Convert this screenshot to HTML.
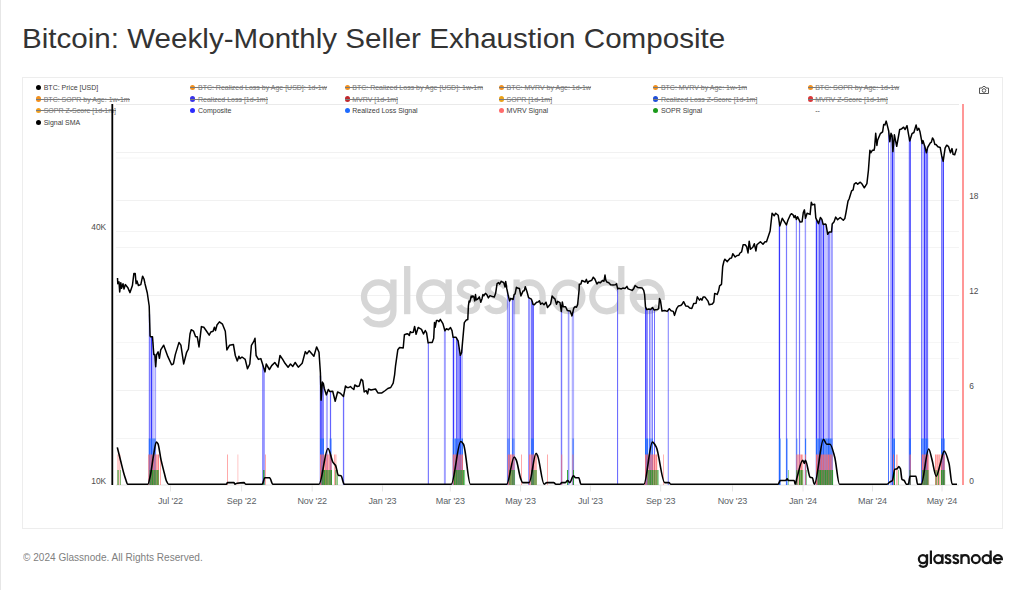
<!DOCTYPE html>
<html><head><meta charset="utf-8"><style>
html,body{margin:0;padding:0;background:#fff;}
body{width:1024px;height:590px;position:relative;overflow:hidden;font-family:"Liberation Sans",sans-serif;}
.edge{position:absolute;left:0;top:0;width:1px;height:590px;background:#e6e6e6;}
.title{position:absolute;left:22px;top:23.2px;font-size:28.5px;line-height:31px;color:#333;white-space:nowrap;transform:scaleX(1.038);transform-origin:0 0;}
.card{position:absolute;left:22px;top:77px;width:979px;height:450px;border:1px solid #ededed;box-sizing:content-box;}
.li{position:absolute;height:10px;font-size:7px;line-height:10px;color:#3d3d3d;white-space:nowrap;padding-left:7.7px;padding-top:0.5px;}
.dot{position:absolute;left:0;top:2.4px;width:5.2px;height:5.2px;border-radius:50%;}
.strike{color:#777;}
.stk{position:absolute;left:0;right:0;height:1px;background:#7a7a7a;}
.foot{position:absolute;left:23.1px;top:550px;font-size:10.8px;line-height:14px;color:#808080;white-space:nowrap;transform:scaleX(0.932);transform-origin:0 0;}
.logo{position:absolute;left:917.5px;top:546px;font-size:17.5px;line-height:20px;color:#1a1a1a;white-space:nowrap;transform:scaleX(1.065);transform-origin:0 0;}
svg text{font-family:"Liberation Sans",sans-serif;}
</style></head><body>
<div class="edge"></div>
<div class="title">Bitcoin: Weekly-Monthly Seller Exhaustion Composite</div>
<div class="card"></div>
<div class="li" style="left:36.0px;top:82.3px"><span class="dot" style="background:#000000"></span>BTC: Price [USD]</div>
<div class="li strike" style="left:190.3px;top:82.3px"><span class="dot" style="background:#f2901e"></span>BTC: Realized Loss by Age [USD]: 1d-1w<span class="stk" style="top:4.70px"></span></div>
<div class="li strike" style="left:344.6px;top:82.3px"><span class="dot" style="background:#f2901e"></span>BTC: Realized Loss by Age [USD]: 1w-1m<span class="stk" style="top:4.70px"></span></div>
<div class="li strike" style="left:498.9px;top:82.3px"><span class="dot" style="background:#f2901e"></span>BTC: MVRV by Age: 1d-1w<span class="stk" style="top:4.70px"></span></div>
<div class="li strike" style="left:653.2px;top:82.3px"><span class="dot" style="background:#f2901e"></span>BTC: MVRV by Age: 1w-1m<span class="stk" style="top:4.70px"></span></div>
<div class="li strike" style="left:807.5px;top:82.3px"><span class="dot" style="background:#f2901e"></span>BTC: SOPR by Age: 1d-1w<span class="stk" style="top:4.70px"></span></div>
<div class="li strike" style="left:36.0px;top:94.0px"><span class="dot" style="background:#f2901e"></span>BTC: SOPR by Age: 1w-1m<span class="stk" style="top:5.00px"></span></div>
<div class="li strike" style="left:190.3px;top:94.0px"><span class="dot" style="background:#3a33e8"></span>Realized Loss [1d-1m]<span class="stk" style="top:5.00px"></span></div>
<div class="li strike" style="left:344.6px;top:94.0px"><span class="dot" style="background:#c0282d"></span>MVRV [1d-1m]<span class="stk" style="top:5.00px"></span></div>
<div class="li strike" style="left:498.9px;top:94.0px"><span class="dot" style="background:#eaa21a"></span>SOPR [1d-1m]<span class="stk" style="top:5.00px"></span></div>
<div class="li strike" style="left:653.2px;top:94.0px"><span class="dot" style="background:#1f4fd8"></span>Realized Loss Z-Score [1d-1m]<span class="stk" style="top:5.00px"></span></div>
<div class="li strike" style="left:807.5px;top:94.0px"><span class="dot" style="background:#d9383a"></span>MVRV Z-Score [1d-1m]<span class="stk" style="top:5.00px"></span></div>
<div class="li strike" style="left:36.0px;top:105.8px"><span class="dot" style="background:#f2a01e"></span>SOPR Z-Score [1d-1m]<span class="stk" style="top:4.20px"></span></div>
<div class="li" style="left:190.3px;top:105.8px"><span class="dot" style="background:#2b2bff"></span>Composite</div>
<div class="li" style="left:344.6px;top:105.8px"><span class="dot" style="background:#1e6bff"></span>Realized Loss Signal</div>
<div class="li" style="left:498.9px;top:105.8px"><span class="dot" style="background:#ff6b6b"></span>MVRV Signal</div>
<div class="li" style="left:653.2px;top:105.8px"><span class="dot" style="background:#1a9a1a"></span>SOPR Signal</div>
<div class="li" style="left:807.5px;top:105.8px">--</div>
<div class="li" style="left:36.0px;top:117.5px"><span class="dot" style="background:#000000"></span>Signal SMA</div>
<svg style="position:absolute;left:0;top:0" width="1024" height="590" viewBox="0 0 1024 590">
<g><line x1="116" y1="104.5" x2="959" y2="104.5" stroke="#eaeaea" stroke-width="1"/>
<line x1="116" y1="152.5" x2="959" y2="152.5" stroke="#f1f1f1" stroke-width="1"/>
<line x1="116" y1="158" x2="959" y2="158" stroke="#f6f6f6" stroke-width="1"/>
<line x1="116" y1="200.5" x2="959" y2="200.5" stroke="#f1f1f1" stroke-width="1"/>
<line x1="116" y1="231.5" x2="959" y2="231.5" stroke="#f4f4f4" stroke-width="1"/>
<line x1="116" y1="247.5" x2="959" y2="247.5" stroke="#f4f4f4" stroke-width="1"/>
<line x1="116" y1="295.5" x2="959" y2="295.5" stroke="#f1f1f1" stroke-width="1"/>
<line x1="116" y1="342.5" x2="959" y2="342.5" stroke="#f6f6f6" stroke-width="1"/>
<line x1="116" y1="358.5" x2="959" y2="358.5" stroke="#f6f6f6" stroke-width="1"/>
<line x1="116" y1="390.5" x2="959" y2="390.5" stroke="#f1f1f1" stroke-width="1"/>
<line x1="116" y1="438.5" x2="959" y2="438.5" stroke="#f4f4f4" stroke-width="1"/>
<line x1="116" y1="485" x2="959" y2="485" stroke="#e6e6e6" stroke-width="1"/></g>
<defs><g id="gn">
<circle cx="378.5" cy="296.8" r="14.5"/><path d="M393.4,279.4 V311 C393.4,319.8 387,324.4 379,324.4 C372.5,324.4 368,321.5 365.5,317.5"/>
<path d="M407.2,266 V314.2"/>
<circle cx="433.7" cy="296.8" r="14.5"/><path d="M448.6,279.4 V314.2"/>
<path d="M477.8,287.8 C476,284.3 472.5,282.5 468.5,282.5 C463.5,282.5 460,285 460,289 C460,293.5 464,295 468.5,296.5 C473.5,298 477.2,300 477.2,304.5 C477.2,309 473.5,311.1 468.5,311.1 C464,311.1 460.5,309 459,305.5"/>
<path transform="translate(27.9,0)" d="M477.8,287.8 C476,284.3 472.5,282.5 468.5,282.5 C463.5,282.5 460,285 460,289 C460,293.5 464,295 468.5,296.5 C473.5,298 477.2,300 477.2,304.5 C477.2,309 473.5,311.1 468.5,311.1 C464,311.1 460.5,309 459,305.5"/>
<path d="M516.6,314.2 V279.4 M516.6,296.5 C516.6,288 522,282.5 529.6,282.5 C537.2,282.5 542.6,288 542.6,296.5 V314.2"/>
<circle cx="568.2" cy="296.8" r="14.2"/>
<circle cx="606.8" cy="296.8" r="14.5"/><path d="M621.3,266 V314.2"/>
<path d="M632.9,296.8 H661.7 A14.4,14.4 0 1 0 658.3,306"/>
</g></defs>
<use href="#gn" fill="none" stroke="#d6d6d6" stroke-width="6.3"/>
<g font-size="9" fill="#5c5f66" letter-spacing="-0.1"><line x1="170.5" y1="485" x2="170.5" y2="491.5" stroke="#e6e6e6" stroke-width="1"/><text x="170.5" y="503.9" text-anchor="middle">Jul '22</text>
<line x1="241.6" y1="485" x2="241.6" y2="491.5" stroke="#e6e6e6" stroke-width="1"/><text x="241.6" y="503.9" text-anchor="middle">Sep '22</text>
<line x1="312.2" y1="485" x2="312.2" y2="491.5" stroke="#e6e6e6" stroke-width="1"/><text x="312.2" y="503.9" text-anchor="middle">Nov '22</text>
<line x1="382.5" y1="485" x2="382.5" y2="491.5" stroke="#e6e6e6" stroke-width="1"/><text x="382.5" y="503.9" text-anchor="middle">Jan '23</text>
<line x1="450.3" y1="485" x2="450.3" y2="491.5" stroke="#e6e6e6" stroke-width="1"/><text x="450.3" y="503.9" text-anchor="middle">Mar '23</text>
<line x1="520.6" y1="485" x2="520.6" y2="491.5" stroke="#e6e6e6" stroke-width="1"/><text x="520.6" y="503.9" text-anchor="middle">May '23</text>
<line x1="590.4" y1="485" x2="590.4" y2="491.5" stroke="#e6e6e6" stroke-width="1"/><text x="590.4" y="503.9" text-anchor="middle">Jul '23</text>
<line x1="660.7" y1="485" x2="660.7" y2="491.5" stroke="#e6e6e6" stroke-width="1"/><text x="660.7" y="503.9" text-anchor="middle">Sep '23</text>
<line x1="732.5" y1="485" x2="732.5" y2="491.5" stroke="#e6e6e6" stroke-width="1"/><text x="732.5" y="503.9" text-anchor="middle">Nov '23</text>
<line x1="803" y1="485" x2="803" y2="491.5" stroke="#e6e6e6" stroke-width="1"/><text x="803" y="503.9" text-anchor="middle">Jan '24</text>
<line x1="872.5" y1="485" x2="872.5" y2="491.5" stroke="#e6e6e6" stroke-width="1"/><text x="872.5" y="503.9" text-anchor="middle">Mar '24</text>
<line x1="942" y1="485" x2="942" y2="491.5" stroke="#e6e6e6" stroke-width="1"/><text x="942" y="503.9" text-anchor="middle">May '24</text></g>
<g font-size="8.4" fill="#4d4d4d" text-anchor="end"><text x="106.2" y="483.8">10K</text><text x="106.2" y="230.3">40K</text></g>
<g font-size="8.4" fill="#4d4d4d"><text x="969.2" y="483.8">0</text><text x="969.2" y="389.1">6</text><text x="969.2" y="294.1">12</text><text x="969.2" y="198.9">18</text></g>
<g><rect x="148.80" y="314.3" width="1.30" height="170.7" fill="#2020ff" fill-opacity="0.6"/>
<rect x="150.10" y="336.6" width="0.90" height="148.4" fill="#2020ff" fill-opacity="0.35"/>
<rect x="151.00" y="336.8" width="1.10" height="148.2" fill="#2020ff" fill-opacity="0.9"/>
<rect x="152.10" y="341.9" width="1.55" height="143.1" fill="#2020ff" fill-opacity="0.3"/>
<rect x="153.65" y="354.6" width="1.25" height="130.4" fill="#2020ff" fill-opacity="0.2"/>
<rect x="154.90" y="364.0" width="1.20" height="121.0" fill="#2020ff" fill-opacity="0.4"/>
<rect x="262.20" y="365.1" width="1.30" height="119.9" fill="#2020ff" fill-opacity="0.6"/>
<rect x="263.50" y="369.2" width="1.30" height="115.8" fill="#2020ff" fill-opacity="0.5"/>
<rect x="319.80" y="375.7" width="1.35" height="109.3" fill="#2020ff" fill-opacity="0.75"/>
<rect x="321.15" y="390.2" width="1.35" height="94.8" fill="#2020ff" fill-opacity="0.75"/>
<rect x="322.50" y="383.3" width="1.40" height="101.7" fill="#2020ff" fill-opacity="0.6"/>
<rect x="325.90" y="394.6" width="1.05" height="90.4" fill="#2020ff" fill-opacity="0.35"/>
<rect x="326.95" y="391.7" width="1.05" height="93.3" fill="#2020ff" fill-opacity="0.35"/>
<rect x="329.90" y="391.4" width="1.20" height="93.6" fill="#2020ff" fill-opacity="0.7"/>
<rect x="342.90" y="396.1" width="1.30" height="88.9" fill="#2020ff" fill-opacity="0.65"/>
<rect x="427.80" y="342.8" width="1.10" height="142.2" fill="#2020ff" fill-opacity="0.65"/>
<rect x="443.90" y="328.8" width="0.95" height="156.2" fill="#2020ff" fill-opacity="0.45"/>
<rect x="444.85" y="330.1" width="0.95" height="154.9" fill="#2020ff" fill-opacity="0.45"/>
<rect x="452.80" y="337.3" width="1.40" height="147.7" fill="#2020ff" fill-opacity="0.9"/>
<rect x="455.90" y="338.0" width="1.20" height="147.0" fill="#2020ff" fill-opacity="0.7"/>
<rect x="457.10" y="340.4" width="1.50" height="144.6" fill="#2020ff" fill-opacity="0.5"/>
<rect x="458.60" y="347.8" width="1.10" height="137.2" fill="#2020ff" fill-opacity="0.6"/>
<rect x="459.70" y="355.2" width="1.30" height="129.8" fill="#2020ff" fill-opacity="0.9"/>
<rect x="461.00" y="352.8" width="1.00" height="132.2" fill="#2020ff" fill-opacity="0.3"/>
<rect x="462.00" y="342.6" width="1.00" height="142.4" fill="#2020ff" fill-opacity="0.3"/>
<rect x="506.90" y="291.8" width="1.10" height="193.2" fill="#2020ff" fill-opacity="0.45"/>
<rect x="508.00" y="296.6" width="1.00" height="188.4" fill="#2020ff" fill-opacity="0.3"/>
<rect x="509.00" y="300.5" width="1.00" height="184.5" fill="#2020ff" fill-opacity="0.55"/>
<rect x="511.90" y="299.0" width="1.35" height="186.0" fill="#2020ff" fill-opacity="0.6"/>
<rect x="513.25" y="296.5" width="0.93" height="188.5" fill="#2020ff" fill-opacity="0.3"/>
<rect x="514.17" y="294.2" width="0.93" height="190.8" fill="#2020ff" fill-opacity="0.3"/>
<rect x="528.00" y="297.3" width="1.00" height="187.7" fill="#2020ff" fill-opacity="0.45"/>
<rect x="529.00" y="298.2" width="1.00" height="186.8" fill="#2020ff" fill-opacity="0.45"/>
<rect x="530.00" y="298.8" width="1.20" height="186.2" fill="#2020ff" fill-opacity="0.18"/>
<rect x="531.20" y="300.5" width="1.35" height="184.5" fill="#2020ff" fill-opacity="0.75"/>
<rect x="532.55" y="304.2" width="1.35" height="180.8" fill="#2020ff" fill-opacity="0.75"/>
<rect x="560.80" y="309.5" width="1.40" height="175.5" fill="#2020ff" fill-opacity="0.6"/>
<rect x="567.80" y="310.7" width="1.60" height="174.3" fill="#2020ff" fill-opacity="0.45"/>
<rect x="571.75" y="314.4" width="1.18" height="170.6" fill="#2020ff" fill-opacity="0.35"/>
<rect x="572.92" y="309.1" width="1.18" height="175.9" fill="#2020ff" fill-opacity="0.35"/>
<rect x="617.00" y="288.3" width="1.10" height="196.7" fill="#2020ff" fill-opacity="0.65"/>
<rect x="645.00" y="307.5" width="1.50" height="177.5" fill="#2020ff" fill-opacity="0.8"/>
<rect x="646.50" y="309.5" width="1.40" height="175.5" fill="#2020ff" fill-opacity="0.55"/>
<rect x="649.10" y="309.2" width="1.00" height="175.8" fill="#2020ff" fill-opacity="0.6"/>
<rect x="650.10" y="309.6" width="1.00" height="175.4" fill="#2020ff" fill-opacity="0.28"/>
<rect x="651.10" y="308.6" width="1.00" height="176.4" fill="#2020ff" fill-opacity="0.28"/>
<rect x="652.10" y="307.6" width="0.90" height="177.4" fill="#2020ff" fill-opacity="0.6"/>
<rect x="654.00" y="309.9" width="1.00" height="175.1" fill="#2020ff" fill-opacity="0.65"/>
<rect x="667.70" y="309.9" width="1.30" height="175.1" fill="#2020ff" fill-opacity="0.45"/>
<rect x="778.80" y="223.6" width="1.30" height="261.4" fill="#2020ff" fill-opacity="0.9"/>
<rect x="785.90" y="224.6" width="1.20" height="260.4" fill="#2020ff" fill-opacity="0.6"/>
<rect x="795.80" y="219.4" width="1.20" height="265.6" fill="#2020ff" fill-opacity="0.5"/>
<rect x="798.90" y="220.7" width="1.20" height="264.3" fill="#2020ff" fill-opacity="0.6"/>
<rect x="804.70" y="217.5" width="1.40" height="267.5" fill="#2020ff" fill-opacity="0.45"/>
<rect x="815.80" y="219.2" width="1.20" height="265.8" fill="#2020ff" fill-opacity="0.9"/>
<rect x="817.00" y="222.2" width="1.70" height="262.8" fill="#2020ff" fill-opacity="0.28"/>
<rect x="818.70" y="220.5" width="1.55" height="264.5" fill="#2020ff" fill-opacity="0.7"/>
<rect x="820.25" y="218.3" width="1.55" height="266.7" fill="#2020ff" fill-opacity="0.55"/>
<rect x="821.80" y="221.5" width="1.20" height="263.5" fill="#2020ff" fill-opacity="0.35"/>
<rect x="823.00" y="224.3" width="1.00" height="260.7" fill="#2020ff" fill-opacity="0.9"/>
<rect x="824.00" y="224.1" width="1.27" height="260.9" fill="#2020ff" fill-opacity="0.28"/>
<rect x="825.27" y="224.5" width="1.27" height="260.5" fill="#2020ff" fill-opacity="0.28"/>
<rect x="826.53" y="231.1" width="1.27" height="253.9" fill="#2020ff" fill-opacity="0.28"/>
<rect x="827.80" y="233.4" width="1.00" height="251.6" fill="#2020ff" fill-opacity="0.6"/>
<rect x="828.80" y="232.0" width="1.00" height="253.0" fill="#2020ff" fill-opacity="0.6"/>
<rect x="829.80" y="232.0" width="1.20" height="253.0" fill="#2020ff" fill-opacity="0.2"/>
<rect x="831.00" y="232.0" width="0.95" height="253.0" fill="#2020ff" fill-opacity="0.42"/>
<rect x="831.95" y="223.7" width="0.95" height="261.3" fill="#2020ff" fill-opacity="0.42"/>
<rect x="888.00" y="130.2" width="1.00" height="354.8" fill="#2020ff" fill-opacity="0.58"/>
<rect x="890.00" y="137.0" width="0.95" height="348.0" fill="#2020ff" fill-opacity="0.35"/>
<rect x="890.95" y="134.2" width="0.95" height="350.8" fill="#2020ff" fill-opacity="0.35"/>
<rect x="891.90" y="143.6" width="1.20" height="341.4" fill="#2020ff" fill-opacity="0.9"/>
<rect x="893.10" y="144.0" width="0.95" height="341.0" fill="#2020ff" fill-opacity="0.35"/>
<rect x="894.05" y="135.4" width="0.95" height="349.6" fill="#2020ff" fill-opacity="0.35"/>
<rect x="908.80" y="138.9" width="1.10" height="346.1" fill="#2020ff" fill-opacity="0.7"/>
<rect x="909.90" y="138.6" width="1.10" height="346.4" fill="#2020ff" fill-opacity="0.7"/>
<rect x="921.00" y="139.8" width="1.00" height="345.2" fill="#2020ff" fill-opacity="0.6"/>
<rect x="922.00" y="142.6" width="0.95" height="342.4" fill="#2020ff" fill-opacity="0.28"/>
<rect x="922.95" y="142.0" width="0.95" height="343.0" fill="#2020ff" fill-opacity="0.28"/>
<rect x="923.90" y="145.4" width="1.20" height="339.6" fill="#2020ff" fill-opacity="0.9"/>
<rect x="925.10" y="149.5" width="1.00" height="335.5" fill="#2020ff" fill-opacity="0.42"/>
<rect x="926.10" y="151.9" width="1.00" height="333.1" fill="#2020ff" fill-opacity="0.68"/>
<rect x="927.10" y="147.5" width="1.00" height="337.5" fill="#2020ff" fill-opacity="0.68"/>
<rect x="941.00" y="155.6" width="1.30" height="329.4" fill="#2020ff" fill-opacity="0.58"/>
<rect x="942.30" y="159.3" width="0.70" height="325.7" fill="#2020ff" fill-opacity="0.48"/>
<rect x="943.00" y="159.1" width="1.00" height="325.9" fill="#2020ff" fill-opacity="0.82"/></g>
<g><rect x="148.80" y="438.5" width="1.17" height="46.5" fill="#1e6bff" fill-opacity="0.84"/>
<rect x="149.97" y="438.5" width="1.17" height="46.5" fill="#1e6bff" fill-opacity="0.52"/>
<rect x="151.13" y="438.5" width="1.17" height="46.5" fill="#1e6bff" fill-opacity="0.84"/>
<rect x="152.30" y="438.5" width="1.17" height="46.5" fill="#1e6bff" fill-opacity="0.52"/>
<rect x="153.47" y="438.5" width="1.17" height="46.5" fill="#1e6bff" fill-opacity="0.84"/>
<rect x="154.63" y="438.5" width="1.17" height="46.5" fill="#1e6bff" fill-opacity="0.52"/>
<rect x="320.10" y="438.5" width="1.27" height="46.5" fill="#1e6bff" fill-opacity="0.89"/>
<rect x="321.37" y="438.5" width="1.27" height="46.5" fill="#1e6bff" fill-opacity="0.55"/>
<rect x="322.63" y="438.5" width="1.27" height="46.5" fill="#1e6bff" fill-opacity="0.89"/>
<rect x="329.70" y="438.5" width="1.10" height="46.5" fill="#1e6bff" fill-opacity="0.73"/>
<rect x="330.80" y="438.5" width="1.10" height="46.5" fill="#1e6bff" fill-opacity="0.46"/>
<rect x="452.80" y="438.5" width="1.13" height="46.5" fill="#1e6bff" fill-opacity="0.84"/>
<rect x="453.93" y="438.5" width="1.13" height="46.5" fill="#1e6bff" fill-opacity="0.52"/>
<rect x="455.07" y="438.5" width="1.13" height="46.5" fill="#1e6bff" fill-opacity="0.84"/>
<rect x="456.20" y="438.5" width="1.13" height="46.5" fill="#1e6bff" fill-opacity="0.52"/>
<rect x="457.33" y="438.5" width="1.13" height="46.5" fill="#1e6bff" fill-opacity="0.84"/>
<rect x="458.47" y="438.5" width="1.13" height="46.5" fill="#1e6bff" fill-opacity="0.52"/>
<rect x="459.60" y="438.5" width="1.13" height="46.5" fill="#1e6bff" fill-opacity="0.84"/>
<rect x="460.73" y="438.5" width="1.13" height="46.5" fill="#1e6bff" fill-opacity="0.52"/>
<rect x="461.87" y="438.5" width="1.13" height="46.5" fill="#1e6bff" fill-opacity="0.84"/>
<rect x="507.30" y="438.5" width="1.35" height="46.5" fill="#1e6bff" fill-opacity="0.63"/>
<rect x="508.65" y="438.5" width="1.35" height="46.5" fill="#1e6bff" fill-opacity="0.39"/>
<rect x="512.00" y="438.5" width="1.35" height="46.5" fill="#1e6bff" fill-opacity="0.63"/>
<rect x="513.35" y="438.5" width="1.35" height="46.5" fill="#1e6bff" fill-opacity="0.39"/>
<rect x="531.30" y="438.5" width="1.35" height="46.5" fill="#1e6bff" fill-opacity="0.95"/>
<rect x="532.65" y="438.5" width="1.35" height="46.5" fill="#1e6bff" fill-opacity="0.59"/>
<rect x="572.40" y="438.5" width="1.60" height="46.5" fill="#1e6bff" fill-opacity="0.53"/>
<rect x="645.00" y="438.5" width="1.07" height="46.5" fill="#1e6bff" fill-opacity="0.95"/>
<rect x="646.07" y="438.5" width="1.07" height="46.5" fill="#1e6bff" fill-opacity="0.59"/>
<rect x="647.13" y="438.5" width="1.07" height="46.5" fill="#1e6bff" fill-opacity="0.95"/>
<rect x="649.20" y="438.5" width="1.27" height="46.5" fill="#1e6bff" fill-opacity="0.63"/>
<rect x="650.47" y="438.5" width="1.27" height="46.5" fill="#1e6bff" fill-opacity="0.39"/>
<rect x="651.73" y="438.5" width="1.27" height="46.5" fill="#1e6bff" fill-opacity="0.63"/>
<rect x="779.00" y="438.5" width="1.50" height="46.5" fill="#1e6bff" fill-opacity="0.95"/>
<rect x="786.10" y="438.5" width="1.40" height="46.5" fill="#1e6bff" fill-opacity="0.73"/>
<rect x="796.30" y="438.5" width="1.10" height="46.5" fill="#1e6bff" fill-opacity="0.63"/>
<rect x="805.00" y="438.5" width="1.10" height="46.5" fill="#1e6bff" fill-opacity="0.84"/>
<rect x="816.00" y="438.5" width="1.19" height="46.5" fill="#1e6bff" fill-opacity="0.89"/>
<rect x="817.19" y="438.5" width="1.19" height="46.5" fill="#1e6bff" fill-opacity="0.55"/>
<rect x="818.37" y="438.5" width="1.19" height="46.5" fill="#1e6bff" fill-opacity="0.89"/>
<rect x="819.56" y="438.5" width="1.19" height="46.5" fill="#1e6bff" fill-opacity="0.55"/>
<rect x="820.74" y="438.5" width="1.19" height="46.5" fill="#1e6bff" fill-opacity="0.89"/>
<rect x="821.93" y="438.5" width="1.19" height="46.5" fill="#1e6bff" fill-opacity="0.55"/>
<rect x="823.11" y="438.5" width="1.19" height="46.5" fill="#1e6bff" fill-opacity="0.89"/>
<rect x="824.30" y="438.5" width="1.19" height="46.5" fill="#1e6bff" fill-opacity="0.55"/>
<rect x="825.49" y="438.5" width="1.19" height="46.5" fill="#1e6bff" fill-opacity="0.89"/>
<rect x="826.67" y="438.5" width="1.19" height="46.5" fill="#1e6bff" fill-opacity="0.55"/>
<rect x="827.86" y="438.5" width="1.19" height="46.5" fill="#1e6bff" fill-opacity="0.89"/>
<rect x="829.04" y="438.5" width="1.19" height="46.5" fill="#1e6bff" fill-opacity="0.55"/>
<rect x="830.23" y="438.5" width="1.19" height="46.5" fill="#1e6bff" fill-opacity="0.89"/>
<rect x="831.41" y="438.5" width="1.19" height="46.5" fill="#1e6bff" fill-opacity="0.55"/>
<rect x="888.00" y="438.5" width="1.00" height="46.5" fill="#1e6bff" fill-opacity="0.53"/>
<rect x="891.90" y="438.5" width="1.03" height="46.5" fill="#1e6bff" fill-opacity="0.89"/>
<rect x="892.93" y="438.5" width="1.03" height="46.5" fill="#1e6bff" fill-opacity="0.55"/>
<rect x="893.97" y="438.5" width="1.03" height="46.5" fill="#1e6bff" fill-opacity="0.89"/>
<rect x="909.30" y="438.5" width="1.50" height="46.5" fill="#1e6bff" fill-opacity="0.84"/>
<rect x="921.20" y="438.5" width="1.17" height="46.5" fill="#1e6bff" fill-opacity="0.84"/>
<rect x="922.37" y="438.5" width="1.17" height="46.5" fill="#1e6bff" fill-opacity="0.52"/>
<rect x="923.53" y="438.5" width="1.17" height="46.5" fill="#1e6bff" fill-opacity="0.84"/>
<rect x="924.70" y="438.5" width="1.17" height="46.5" fill="#1e6bff" fill-opacity="0.52"/>
<rect x="925.87" y="438.5" width="1.17" height="46.5" fill="#1e6bff" fill-opacity="0.84"/>
<rect x="927.03" y="438.5" width="1.17" height="46.5" fill="#1e6bff" fill-opacity="0.52"/>
<rect x="941.00" y="438.5" width="1.23" height="46.5" fill="#1e6bff" fill-opacity="0.84"/>
<rect x="942.23" y="438.5" width="1.23" height="46.5" fill="#1e6bff" fill-opacity="0.52"/>
<rect x="943.47" y="438.5" width="1.23" height="46.5" fill="#1e6bff" fill-opacity="0.84"/></g>
<g><rect x="117.30" y="454.5" width="1.07" height="30.5" fill="#ff6b6b" fill-opacity="0.47"/>
<rect x="118.37" y="454.5" width="1.07" height="30.5" fill="#ff6b6b" fill-opacity="0.29"/>
<rect x="119.43" y="454.5" width="1.07" height="30.5" fill="#ff6b6b" fill-opacity="0.47"/>
<rect x="148.30" y="454.5" width="1.19" height="30.5" fill="#ff6b6b" fill-opacity="0.84"/>
<rect x="149.49" y="454.5" width="1.19" height="30.5" fill="#ff6b6b" fill-opacity="0.52"/>
<rect x="150.68" y="454.5" width="1.19" height="30.5" fill="#ff6b6b" fill-opacity="0.84"/>
<rect x="151.87" y="454.5" width="1.19" height="30.5" fill="#ff6b6b" fill-opacity="0.52"/>
<rect x="153.06" y="454.5" width="1.19" height="30.5" fill="#ff6b6b" fill-opacity="0.84"/>
<rect x="154.24" y="454.5" width="1.19" height="30.5" fill="#ff6b6b" fill-opacity="0.52"/>
<rect x="155.43" y="454.5" width="1.19" height="30.5" fill="#ff6b6b" fill-opacity="0.84"/>
<rect x="156.62" y="454.5" width="1.19" height="30.5" fill="#ff6b6b" fill-opacity="0.52"/>
<rect x="157.81" y="454.5" width="1.19" height="30.5" fill="#ff6b6b" fill-opacity="0.84"/>
<rect x="160.00" y="454.5" width="0.90" height="30.5" fill="#ff6b6b" fill-opacity="0.63"/>
<rect x="227.20" y="454.5" width="0.80" height="30.5" fill="#ff6b6b" fill-opacity="0.73"/>
<rect x="237.50" y="454.5" width="0.80" height="30.5" fill="#ff6b6b" fill-opacity="0.47"/>
<rect x="265.00" y="454.5" width="0.80" height="30.5" fill="#ff6b6b" fill-opacity="0.73"/>
<rect x="320.00" y="454.5" width="1.20" height="30.5" fill="#ff6b6b" fill-opacity="0.84"/>
<rect x="321.20" y="454.5" width="1.20" height="30.5" fill="#ff6b6b" fill-opacity="0.52"/>
<rect x="322.40" y="454.5" width="1.20" height="30.5" fill="#ff6b6b" fill-opacity="0.84"/>
<rect x="323.60" y="454.5" width="1.20" height="30.5" fill="#ff6b6b" fill-opacity="0.52"/>
<rect x="324.80" y="454.5" width="1.20" height="30.5" fill="#ff6b6b" fill-opacity="0.84"/>
<rect x="326.00" y="454.5" width="1.20" height="30.5" fill="#ff6b6b" fill-opacity="0.52"/>
<rect x="327.20" y="454.5" width="1.20" height="30.5" fill="#ff6b6b" fill-opacity="0.84"/>
<rect x="328.40" y="454.5" width="1.20" height="30.5" fill="#ff6b6b" fill-opacity="0.52"/>
<rect x="329.60" y="454.5" width="1.20" height="30.5" fill="#ff6b6b" fill-opacity="0.84"/>
<rect x="330.80" y="454.5" width="1.20" height="30.5" fill="#ff6b6b" fill-opacity="0.52"/>
<rect x="334.00" y="454.5" width="1.35" height="30.5" fill="#ff6b6b" fill-opacity="0.58"/>
<rect x="335.35" y="454.5" width="1.35" height="30.5" fill="#ff6b6b" fill-opacity="0.36"/>
<rect x="452.80" y="454.5" width="1.13" height="30.5" fill="#ff6b6b" fill-opacity="0.84"/>
<rect x="453.93" y="454.5" width="1.13" height="30.5" fill="#ff6b6b" fill-opacity="0.52"/>
<rect x="455.07" y="454.5" width="1.13" height="30.5" fill="#ff6b6b" fill-opacity="0.84"/>
<rect x="456.20" y="454.5" width="1.13" height="30.5" fill="#ff6b6b" fill-opacity="0.52"/>
<rect x="457.33" y="454.5" width="1.13" height="30.5" fill="#ff6b6b" fill-opacity="0.84"/>
<rect x="458.47" y="454.5" width="1.13" height="30.5" fill="#ff6b6b" fill-opacity="0.52"/>
<rect x="459.60" y="454.5" width="1.13" height="30.5" fill="#ff6b6b" fill-opacity="0.84"/>
<rect x="460.73" y="454.5" width="1.13" height="30.5" fill="#ff6b6b" fill-opacity="0.52"/>
<rect x="461.87" y="454.5" width="1.13" height="30.5" fill="#ff6b6b" fill-opacity="0.84"/>
<rect x="507.80" y="454.5" width="1.15" height="30.5" fill="#ff6b6b" fill-opacity="0.84"/>
<rect x="508.95" y="454.5" width="1.15" height="30.5" fill="#ff6b6b" fill-opacity="0.52"/>
<rect x="510.10" y="454.5" width="1.15" height="30.5" fill="#ff6b6b" fill-opacity="0.84"/>
<rect x="511.25" y="454.5" width="1.15" height="30.5" fill="#ff6b6b" fill-opacity="0.52"/>
<rect x="512.40" y="454.5" width="1.15" height="30.5" fill="#ff6b6b" fill-opacity="0.84"/>
<rect x="513.55" y="454.5" width="1.15" height="30.5" fill="#ff6b6b" fill-opacity="0.52"/>
<rect x="521.00" y="454.5" width="0.80" height="30.5" fill="#ff6b6b" fill-opacity="0.73"/>
<rect x="529.00" y="454.5" width="1.09" height="30.5" fill="#ff6b6b" fill-opacity="0.79"/>
<rect x="530.09" y="454.5" width="1.09" height="30.5" fill="#ff6b6b" fill-opacity="0.49"/>
<rect x="531.17" y="454.5" width="1.09" height="30.5" fill="#ff6b6b" fill-opacity="0.79"/>
<rect x="532.26" y="454.5" width="1.09" height="30.5" fill="#ff6b6b" fill-opacity="0.49"/>
<rect x="533.34" y="454.5" width="1.09" height="30.5" fill="#ff6b6b" fill-opacity="0.79"/>
<rect x="534.43" y="454.5" width="1.09" height="30.5" fill="#ff6b6b" fill-opacity="0.49"/>
<rect x="535.51" y="454.5" width="1.09" height="30.5" fill="#ff6b6b" fill-opacity="0.79"/>
<rect x="547.00" y="454.5" width="0.80" height="30.5" fill="#ff6b6b" fill-opacity="0.73"/>
<rect x="561.20" y="454.5" width="1.00" height="30.5" fill="#ff6b6b" fill-opacity="0.73"/>
<rect x="572.40" y="454.5" width="1.00" height="30.5" fill="#ff6b6b" fill-opacity="0.63"/>
<rect x="645.00" y="454.5" width="1.11" height="30.5" fill="#ff6b6b" fill-opacity="0.84"/>
<rect x="646.11" y="454.5" width="1.11" height="30.5" fill="#ff6b6b" fill-opacity="0.52"/>
<rect x="647.22" y="454.5" width="1.11" height="30.5" fill="#ff6b6b" fill-opacity="0.84"/>
<rect x="648.33" y="454.5" width="1.11" height="30.5" fill="#ff6b6b" fill-opacity="0.52"/>
<rect x="649.44" y="454.5" width="1.11" height="30.5" fill="#ff6b6b" fill-opacity="0.84"/>
<rect x="650.55" y="454.5" width="1.11" height="30.5" fill="#ff6b6b" fill-opacity="0.52"/>
<rect x="651.65" y="454.5" width="1.11" height="30.5" fill="#ff6b6b" fill-opacity="0.84"/>
<rect x="652.76" y="454.5" width="1.11" height="30.5" fill="#ff6b6b" fill-opacity="0.52"/>
<rect x="653.87" y="454.5" width="1.11" height="30.5" fill="#ff6b6b" fill-opacity="0.84"/>
<rect x="654.98" y="454.5" width="1.11" height="30.5" fill="#ff6b6b" fill-opacity="0.52"/>
<rect x="656.09" y="454.5" width="1.11" height="30.5" fill="#ff6b6b" fill-opacity="0.84"/>
<rect x="663.00" y="454.5" width="0.80" height="30.5" fill="#ff6b6b" fill-opacity="0.63"/>
<rect x="796.30" y="454.5" width="1.15" height="30.5" fill="#ff6b6b" fill-opacity="0.79"/>
<rect x="797.45" y="454.5" width="1.15" height="30.5" fill="#ff6b6b" fill-opacity="0.49"/>
<rect x="798.60" y="454.5" width="1.15" height="30.5" fill="#ff6b6b" fill-opacity="0.79"/>
<rect x="799.75" y="454.5" width="1.15" height="30.5" fill="#ff6b6b" fill-opacity="0.49"/>
<rect x="800.90" y="454.5" width="1.15" height="30.5" fill="#ff6b6b" fill-opacity="0.79"/>
<rect x="802.05" y="454.5" width="1.15" height="30.5" fill="#ff6b6b" fill-opacity="0.49"/>
<rect x="805.00" y="454.5" width="1.00" height="30.5" fill="#ff6b6b" fill-opacity="0.73"/>
<rect x="816.00" y="454.5" width="1.19" height="30.5" fill="#ff6b6b" fill-opacity="0.89"/>
<rect x="817.19" y="454.5" width="1.19" height="30.5" fill="#ff6b6b" fill-opacity="0.55"/>
<rect x="818.37" y="454.5" width="1.19" height="30.5" fill="#ff6b6b" fill-opacity="0.89"/>
<rect x="819.56" y="454.5" width="1.19" height="30.5" fill="#ff6b6b" fill-opacity="0.55"/>
<rect x="820.74" y="454.5" width="1.19" height="30.5" fill="#ff6b6b" fill-opacity="0.89"/>
<rect x="821.93" y="454.5" width="1.19" height="30.5" fill="#ff6b6b" fill-opacity="0.55"/>
<rect x="823.11" y="454.5" width="1.19" height="30.5" fill="#ff6b6b" fill-opacity="0.89"/>
<rect x="824.30" y="454.5" width="1.19" height="30.5" fill="#ff6b6b" fill-opacity="0.55"/>
<rect x="825.49" y="454.5" width="1.19" height="30.5" fill="#ff6b6b" fill-opacity="0.89"/>
<rect x="826.67" y="454.5" width="1.19" height="30.5" fill="#ff6b6b" fill-opacity="0.55"/>
<rect x="827.86" y="454.5" width="1.19" height="30.5" fill="#ff6b6b" fill-opacity="0.89"/>
<rect x="829.04" y="454.5" width="1.19" height="30.5" fill="#ff6b6b" fill-opacity="0.55"/>
<rect x="830.23" y="454.5" width="1.19" height="30.5" fill="#ff6b6b" fill-opacity="0.89"/>
<rect x="831.41" y="454.5" width="1.19" height="30.5" fill="#ff6b6b" fill-opacity="0.55"/>
<rect x="893.00" y="454.5" width="1.00" height="30.5" fill="#ff6b6b" fill-opacity="0.73"/>
<rect x="896.00" y="454.5" width="1.70" height="30.5" fill="#ff6b6b" fill-opacity="0.47"/>
<rect x="909.50" y="454.5" width="1.30" height="30.5" fill="#ff6b6b" fill-opacity="0.73"/>
<rect x="921.80" y="454.5" width="1.23" height="30.5" fill="#ff6b6b" fill-opacity="0.84"/>
<rect x="923.03" y="454.5" width="1.23" height="30.5" fill="#ff6b6b" fill-opacity="0.52"/>
<rect x="924.27" y="454.5" width="1.23" height="30.5" fill="#ff6b6b" fill-opacity="0.84"/>
<rect x="925.50" y="454.5" width="1.23" height="30.5" fill="#ff6b6b" fill-opacity="0.52"/>
<rect x="926.73" y="454.5" width="1.23" height="30.5" fill="#ff6b6b" fill-opacity="0.84"/>
<rect x="927.97" y="454.5" width="1.23" height="30.5" fill="#ff6b6b" fill-opacity="0.52"/>
<rect x="935.00" y="454.5" width="1.08" height="30.5" fill="#ff6b6b" fill-opacity="0.73"/>
<rect x="936.08" y="454.5" width="1.08" height="30.5" fill="#ff6b6b" fill-opacity="0.46"/>
<rect x="937.16" y="454.5" width="1.08" height="30.5" fill="#ff6b6b" fill-opacity="0.73"/>
<rect x="938.24" y="454.5" width="1.08" height="30.5" fill="#ff6b6b" fill-opacity="0.46"/>
<rect x="939.32" y="454.5" width="1.08" height="30.5" fill="#ff6b6b" fill-opacity="0.73"/>
<rect x="941.00" y="454.5" width="1.23" height="30.5" fill="#ff6b6b" fill-opacity="0.84"/>
<rect x="942.23" y="454.5" width="1.23" height="30.5" fill="#ff6b6b" fill-opacity="0.52"/>
<rect x="943.47" y="454.5" width="1.23" height="30.5" fill="#ff6b6b" fill-opacity="0.84"/></g>
<g><rect x="117.50" y="470.0" width="1.10" height="15.0" fill="#1a9a1a" fill-opacity="0.84"/>
<rect x="120.00" y="470.0" width="0.80" height="15.0" fill="#1a9a1a" fill-opacity="0.63"/>
<rect x="149.60" y="470.0" width="1.18" height="15.0" fill="#1a9a1a" fill-opacity="0.84"/>
<rect x="150.78" y="470.0" width="1.18" height="15.0" fill="#1a9a1a" fill-opacity="0.52"/>
<rect x="151.95" y="470.0" width="1.18" height="15.0" fill="#1a9a1a" fill-opacity="0.84"/>
<rect x="153.12" y="470.0" width="1.18" height="15.0" fill="#1a9a1a" fill-opacity="0.52"/>
<rect x="154.30" y="470.0" width="1.18" height="15.0" fill="#1a9a1a" fill-opacity="0.84"/>
<rect x="155.47" y="470.0" width="1.18" height="15.0" fill="#1a9a1a" fill-opacity="0.52"/>
<rect x="156.65" y="470.0" width="1.18" height="15.0" fill="#1a9a1a" fill-opacity="0.84"/>
<rect x="157.82" y="470.0" width="1.18" height="15.0" fill="#1a9a1a" fill-opacity="0.52"/>
<rect x="263.00" y="470.0" width="0.90" height="15.0" fill="#1a9a1a" fill-opacity="0.84"/>
<rect x="263.90" y="470.0" width="0.90" height="15.0" fill="#1a9a1a" fill-opacity="0.52"/>
<rect x="321.70" y="470.0" width="1.14" height="15.0" fill="#1a9a1a" fill-opacity="0.84"/>
<rect x="322.84" y="470.0" width="1.14" height="15.0" fill="#1a9a1a" fill-opacity="0.52"/>
<rect x="323.99" y="470.0" width="1.14" height="15.0" fill="#1a9a1a" fill-opacity="0.84"/>
<rect x="325.13" y="470.0" width="1.14" height="15.0" fill="#1a9a1a" fill-opacity="0.52"/>
<rect x="326.28" y="470.0" width="1.14" height="15.0" fill="#1a9a1a" fill-opacity="0.84"/>
<rect x="327.42" y="470.0" width="1.14" height="15.0" fill="#1a9a1a" fill-opacity="0.52"/>
<rect x="328.57" y="470.0" width="1.14" height="15.0" fill="#1a9a1a" fill-opacity="0.84"/>
<rect x="329.71" y="470.0" width="1.14" height="15.0" fill="#1a9a1a" fill-opacity="0.52"/>
<rect x="330.86" y="470.0" width="1.14" height="15.0" fill="#1a9a1a" fill-opacity="0.84"/>
<rect x="335.00" y="470.0" width="1.00" height="15.0" fill="#1a9a1a" fill-opacity="0.53"/>
<rect x="336.00" y="470.0" width="1.00" height="15.0" fill="#1a9a1a" fill-opacity="0.33"/>
<rect x="337.00" y="470.0" width="1.00" height="15.0" fill="#1a9a1a" fill-opacity="0.53"/>
<rect x="453.90" y="470.0" width="1.12" height="15.0" fill="#1a9a1a" fill-opacity="0.84"/>
<rect x="455.02" y="470.0" width="1.12" height="15.0" fill="#1a9a1a" fill-opacity="0.52"/>
<rect x="456.14" y="470.0" width="1.12" height="15.0" fill="#1a9a1a" fill-opacity="0.84"/>
<rect x="457.26" y="470.0" width="1.12" height="15.0" fill="#1a9a1a" fill-opacity="0.52"/>
<rect x="458.38" y="470.0" width="1.12" height="15.0" fill="#1a9a1a" fill-opacity="0.84"/>
<rect x="459.50" y="470.0" width="1.12" height="15.0" fill="#1a9a1a" fill-opacity="0.52"/>
<rect x="460.62" y="470.0" width="1.12" height="15.0" fill="#1a9a1a" fill-opacity="0.84"/>
<rect x="461.74" y="470.0" width="1.12" height="15.0" fill="#1a9a1a" fill-opacity="0.52"/>
<rect x="462.86" y="470.0" width="1.12" height="15.0" fill="#1a9a1a" fill-opacity="0.84"/>
<rect x="463.98" y="470.0" width="1.12" height="15.0" fill="#1a9a1a" fill-opacity="0.52"/>
<rect x="509.40" y="470.0" width="1.06" height="15.0" fill="#1a9a1a" fill-opacity="0.84"/>
<rect x="510.46" y="470.0" width="1.06" height="15.0" fill="#1a9a1a" fill-opacity="0.52"/>
<rect x="511.52" y="470.0" width="1.06" height="15.0" fill="#1a9a1a" fill-opacity="0.84"/>
<rect x="512.58" y="470.0" width="1.06" height="15.0" fill="#1a9a1a" fill-opacity="0.52"/>
<rect x="513.64" y="470.0" width="1.06" height="15.0" fill="#1a9a1a" fill-opacity="0.84"/>
<rect x="531.30" y="470.0" width="1.06" height="15.0" fill="#1a9a1a" fill-opacity="0.84"/>
<rect x="532.36" y="470.0" width="1.06" height="15.0" fill="#1a9a1a" fill-opacity="0.52"/>
<rect x="533.42" y="470.0" width="1.06" height="15.0" fill="#1a9a1a" fill-opacity="0.84"/>
<rect x="534.48" y="470.0" width="1.06" height="15.0" fill="#1a9a1a" fill-opacity="0.52"/>
<rect x="535.54" y="470.0" width="1.06" height="15.0" fill="#1a9a1a" fill-opacity="0.84"/>
<rect x="567.00" y="470.0" width="1.10" height="15.0" fill="#1a9a1a" fill-opacity="0.84"/>
<rect x="573.00" y="470.0" width="1.00" height="15.0" fill="#1a9a1a" fill-opacity="0.84"/>
<rect x="647.60" y="470.0" width="1.12" height="15.0" fill="#1a9a1a" fill-opacity="0.79"/>
<rect x="648.72" y="470.0" width="1.12" height="15.0" fill="#1a9a1a" fill-opacity="0.49"/>
<rect x="649.84" y="470.0" width="1.12" height="15.0" fill="#1a9a1a" fill-opacity="0.79"/>
<rect x="650.96" y="470.0" width="1.12" height="15.0" fill="#1a9a1a" fill-opacity="0.49"/>
<rect x="652.08" y="470.0" width="1.12" height="15.0" fill="#1a9a1a" fill-opacity="0.79"/>
<rect x="653.20" y="470.0" width="1.12" height="15.0" fill="#1a9a1a" fill-opacity="0.49"/>
<rect x="654.32" y="470.0" width="1.12" height="15.0" fill="#1a9a1a" fill-opacity="0.79"/>
<rect x="655.44" y="470.0" width="1.12" height="15.0" fill="#1a9a1a" fill-opacity="0.49"/>
<rect x="656.56" y="470.0" width="1.12" height="15.0" fill="#1a9a1a" fill-opacity="0.79"/>
<rect x="657.68" y="470.0" width="1.12" height="15.0" fill="#1a9a1a" fill-opacity="0.49"/>
<rect x="788.00" y="470.0" width="0.60" height="15.0" fill="#1a9a1a" fill-opacity="0.73"/>
<rect x="796.30" y="470.0" width="1.10" height="15.0" fill="#1a9a1a" fill-opacity="0.73"/>
<rect x="799.00" y="470.0" width="1.05" height="15.0" fill="#1a9a1a" fill-opacity="0.84"/>
<rect x="800.05" y="470.0" width="1.05" height="15.0" fill="#1a9a1a" fill-opacity="0.52"/>
<rect x="801.10" y="470.0" width="1.05" height="15.0" fill="#1a9a1a" fill-opacity="0.84"/>
<rect x="802.15" y="470.0" width="1.05" height="15.0" fill="#1a9a1a" fill-opacity="0.52"/>
<rect x="806.40" y="470.0" width="0.60" height="15.0" fill="#1a9a1a" fill-opacity="0.73"/>
<rect x="817.60" y="470.0" width="1.19" height="15.0" fill="#1a9a1a" fill-opacity="0.84"/>
<rect x="818.79" y="470.0" width="1.19" height="15.0" fill="#1a9a1a" fill-opacity="0.52"/>
<rect x="819.98" y="470.0" width="1.19" height="15.0" fill="#1a9a1a" fill-opacity="0.84"/>
<rect x="821.18" y="470.0" width="1.19" height="15.0" fill="#1a9a1a" fill-opacity="0.52"/>
<rect x="822.37" y="470.0" width="1.19" height="15.0" fill="#1a9a1a" fill-opacity="0.84"/>
<rect x="823.56" y="470.0" width="1.19" height="15.0" fill="#1a9a1a" fill-opacity="0.52"/>
<rect x="824.75" y="470.0" width="1.19" height="15.0" fill="#1a9a1a" fill-opacity="0.84"/>
<rect x="825.95" y="470.0" width="1.19" height="15.0" fill="#1a9a1a" fill-opacity="0.52"/>
<rect x="827.14" y="470.0" width="1.19" height="15.0" fill="#1a9a1a" fill-opacity="0.84"/>
<rect x="828.33" y="470.0" width="1.19" height="15.0" fill="#1a9a1a" fill-opacity="0.52"/>
<rect x="829.52" y="470.0" width="1.19" height="15.0" fill="#1a9a1a" fill-opacity="0.84"/>
<rect x="830.72" y="470.0" width="1.19" height="15.0" fill="#1a9a1a" fill-opacity="0.52"/>
<rect x="831.91" y="470.0" width="1.19" height="15.0" fill="#1a9a1a" fill-opacity="0.84"/>
<rect x="894.00" y="470.0" width="1.00" height="15.0" fill="#1a9a1a" fill-opacity="0.84"/>
<rect x="898.00" y="470.0" width="0.80" height="15.0" fill="#1a9a1a" fill-opacity="0.63"/>
<rect x="909.50" y="470.0" width="1.00" height="15.0" fill="#1a9a1a" fill-opacity="0.73"/>
<rect x="922.30" y="470.0" width="1.07" height="15.0" fill="#1a9a1a" fill-opacity="0.84"/>
<rect x="923.37" y="470.0" width="1.07" height="15.0" fill="#1a9a1a" fill-opacity="0.52"/>
<rect x="924.43" y="470.0" width="1.07" height="15.0" fill="#1a9a1a" fill-opacity="0.84"/>
<rect x="925.50" y="470.0" width="1.07" height="15.0" fill="#1a9a1a" fill-opacity="0.52"/>
<rect x="926.57" y="470.0" width="1.07" height="15.0" fill="#1a9a1a" fill-opacity="0.84"/>
<rect x="927.63" y="470.0" width="1.07" height="15.0" fill="#1a9a1a" fill-opacity="0.52"/>
<rect x="935.60" y="470.0" width="1.10" height="15.0" fill="#1a9a1a" fill-opacity="0.73"/>
<rect x="938.00" y="470.0" width="1.00" height="15.0" fill="#1a9a1a" fill-opacity="0.63"/>
<rect x="941.00" y="470.0" width="1.05" height="15.0" fill="#1a9a1a" fill-opacity="0.84"/>
<rect x="942.05" y="470.0" width="1.05" height="15.0" fill="#1a9a1a" fill-opacity="0.52"/>
<rect x="943.10" y="470.0" width="1.05" height="15.0" fill="#1a9a1a" fill-opacity="0.84"/>
<rect x="944.15" y="470.0" width="1.05" height="15.0" fill="#1a9a1a" fill-opacity="0.52"/></g>
<path d="M117.5,278.0 L117.8,283.7 L119.0,281.8 L119.7,292.0 L120.8,282.7 L121.6,288.3 L123.0,283.7 L124.0,289.0 L125.3,284.6 L127.7,287.4 L130.0,292.6 L132.4,285.5 L133.9,273.4 L135.2,273.4 L136.1,283.7 L137.0,280.9 L138.4,285.5 L140.8,284.6 L142.6,276.2 L144.0,279.0 L145.0,283.7 L147.3,293.0 L149.2,306.0 L150.1,335.9 L150.7,336.8 L152.5,336.8 L153.8,354.6 L154.8,354.6 L155.7,366.7 L156.6,354.6 L158.1,351.8 L159.4,358.3 L160.7,349.9 L163.7,345.2 L167.8,356.4 L171.6,364.8 L173.4,363.9 L175.3,354.6 L179.0,342.4 L180.9,345.2 L183.7,363.9 L186.5,352.7 L188.4,349.0 L190.0,334.0 L191.2,329.7 L193.6,331.2 L195.6,336.7 L197.2,336.7 L199.0,346.9 L201.4,326.6 L203.8,327.3 L206.1,330.5 L209.2,335.2 L210.8,332.0 L213.1,331.2 L214.4,327.3 L215.5,330.5 L217.0,325.0 L219.4,321.9 L222.5,324.2 L225.3,331.2 L226.9,350.0 L229.5,345.3 L233.4,344.5 L235.3,355.5 L237.3,360.9 L238.9,356.2 L240.0,358.6 L242.0,357.0 L245.2,359.4 L247.5,368.8 L249.8,364.0 L251.4,345.3 L253.8,341.4 L255.0,338.3 L256.1,355.5 L258.4,359.4 L260.8,358.6 L262.3,363.3 L265.0,371.9 L266.2,364.0 L269.4,369.5 L271.7,365.6 L274.8,362.5 L278.0,367.2 L280.0,355.5 L282.7,359.4 L285.0,363.3 L288.1,367.2 L290.5,364.0 L292.8,366.4 L295.2,362.5 L298.3,367.2 L302.2,363.3 L305.3,351.6 L306.9,353.9 L309.2,350.8 L313.9,356.2 L316.6,346.9 L319.0,352.3 L320.4,372.8 L321.1,400.3 L322.4,382.1 L323.4,383.6 L324.3,388.5 L326.3,394.9 L328.3,389.5 L329.8,391.5 L332.7,391.3 L335.2,401.3 L337.6,392.0 L340.6,393.4 L343.5,396.4 L345.5,386.0 L347.0,387.5 L348.9,387.5 L350.4,386.5 L351.9,388.0 L353.8,389.5 L354.8,385.0 L357.3,386.5 L359.2,386.0 L361.2,379.2 L362.7,380.6 L364.2,392.0 L366.1,390.5 L367.6,393.9 L368.6,389.0 L371.0,390.0 L375.5,389.0 L377.9,392.9 L381.9,392.9 L385.3,390.5 L387.8,388.5 L390.7,387.5 L393.2,383.1 L394.6,374.8 L395.5,366.2 L397.8,349.8 L399.6,347.5 L403.2,348.0 L404.4,334.8 L405.7,334.3 L407.2,333.8 L408.3,334.3 L409.3,335.5 L410.3,331.7 L411.3,332.5 L413.3,332.2 L414.6,326.4 L416.1,334.3 L418.2,327.4 L419.4,328.2 L421.5,329.4 L423.5,334.0 L425.3,330.5 L426.6,332.8 L428.1,342.9 L429.6,342.4 L432.2,342.4 L433.7,338.3 L434.5,322.6 L435.2,327.2 L436.5,320.5 L437.8,320.5 L439.0,321.6 L440.3,319.3 L442.9,323.6 L444.9,330.7 L446.4,328.7 L448.5,329.7 L450.5,327.6 L452.0,330.7 L453.1,337.3 L456.1,337.3 L458.1,340.9 L460.3,355.3 L461.6,352.6 L464.3,322.6 L466.3,320.0 L467.8,319.5 L468.4,306.0 L469.1,300.9 L469.9,301.9 L471.2,296.1 L471.9,297.4 L472.9,295.8 L474.0,297.4 L474.7,300.9 L475.5,294.6 L476.2,299.9 L477.3,299.4 L478.3,298.4 L479.3,296.9 L480.8,302.2 L482.1,298.4 L482.9,294.6 L483.9,295.6 L485.4,293.3 L486.9,294.8 L488.4,297.9 L490.0,295.6 L492.5,296.6 L494.3,296.9 L495.6,293.3 L497.1,283.6 L498.6,282.6 L499.6,284.1 L501.2,281.3 L503.7,282.6 L505.0,286.9 L505.7,281.6 L506.8,288.7 L508.3,295.8 L509.6,300.9 L510.8,298.4 L512.0,299.1 L512.3,298.7 L513.1,299.5 L514.1,294.6 L515.1,293.9 L516.4,287.3 L517.6,288.0 L519.4,288.5 L520.9,295.9 L523.0,291.1 L524.2,290.8 L525.3,286.8 L527.0,291.8 L528.6,297.7 L531.4,299.2 L532.4,302.0 L532.8,304.0 L534.3,304.8 L536.6,302.2 L538.1,302.0 L539.4,300.7 L540.7,304.2 L542.2,303.0 L544.0,304.8 L546.0,302.2 L547.5,307.5 L550.6,304.0 L552.1,296.1 L553.4,297.6 L554.9,298.9 L556.5,304.2 L557.7,301.4 L560.0,302.7 L561.3,311.4 L562.3,302.0 L563.3,306.8 L565.6,306.8 L567.4,310.6 L570.2,310.9 L572.0,315.9 L573.7,308.3 L575.0,306.8 L576.5,307.3 L577.6,304.8 L579.1,290.0 L579.3,284.3 L580.9,284.0 L581.9,280.5 L585.2,282.0 L586.4,279.4 L587.7,283.3 L588.7,281.5 L591.8,280.2 L593.3,277.2 L594.8,278.9 L596.9,284.0 L598.4,282.2 L600.4,282.8 L602.5,280.5 L604.0,281.2 L605.0,275.1 L605.8,280.2 L606.8,282.0 L608.8,282.8 L610.6,284.8 L613.1,285.0 L615.2,284.8 L616.5,283.8 L617.7,288.9 L618.7,288.3 L621.3,288.9 L622.8,288.1 L625.0,288.6 L626.9,286.4 L628.1,288.9 L632.1,290.4 L633.6,288.9 L635.1,285.5 L637.9,287.6 L642.1,287.9 L643.7,290.4 L644.6,294.6 L645.5,306.9 L646.7,309.6 L648.9,309.0 L650.7,309.6 L652.5,307.5 L654.0,309.9 L657.4,309.6 L658.6,308.7 L659.5,298.6 L660.5,300.8 L662.0,311.1 L664.7,310.5 L667.2,311.4 L669.3,308.7 L671.1,310.8 L673.3,311.4 L674.5,315.4 L676.6,308.7 L678.5,305.9 L680.6,305.6 L682.0,304.4 L683.6,301.7 L685.7,305.9 L687.9,306.2 L689.7,308.1 L691.8,308.4 L693.7,303.5 L696.1,303.2 L697.3,296.8 L699.5,300.1 L700.7,298.6 L701.9,300.1 L703.1,297.1 L705.0,297.1 L708.0,301.1 L709.2,304.7 L712.3,304.1 L713.8,302.0 L714.7,293.4 L717.2,294.4 L718.7,290.4 L719.6,285.8 L721.5,284.3 L722.7,266.5 L724.0,261.0 L724.9,259.2 L727.3,261.6 L730.1,258.2 L731.6,257.9 L732.8,253.7 L735.2,257.0 L737.1,255.5 L738.9,255.2 L740.0,253.0 L741.6,251.9 L743.1,244.8 L745.2,244.8 L746.7,246.8 L748.0,252.9 L749.2,241.2 L750.5,249.3 L752.8,247.3 L754.3,243.7 L755.9,250.9 L756.9,244.8 L760.4,241.7 L763.0,244.2 L765.0,241.7 L766.5,241.7 L768.1,237.1 L770.1,231.0 L772.1,213.2 L774.2,215.8 L775.7,213.2 L778.2,215.3 L779.8,225.9 L782.3,218.3 L784.8,222.4 L786.4,224.9 L787.9,220.3 L790.4,214.8 L791.4,213.7 L793.3,215.2 L794.1,217.5 L795.2,215.6 L796.4,219.4 L797.5,216.7 L800.2,222.1 L802.1,221.7 L803.3,212.5 L804.4,209.9 L805.5,218.3 L807.1,213.3 L810.1,214.4 L811.3,202.2 L812.4,204.9 L814.7,204.2 L815.8,217.9 L818.5,223.6 L820.4,217.5 L821.9,219.4 L823.1,224.4 L825.4,224.0 L826.1,224.8 L827.7,234.3 L829.2,232.0 L831.5,232.0 L832.2,224.0 L834.1,221.7 L835.7,217.1 L837.6,219.8 L840.2,217.5 L843.3,220.2 L844.8,218.6 L846.0,212.5 L848.0,201.1 L849.1,199.0 L851.6,190.9 L853.1,189.8 L854.2,184.2 L856.2,182.7 L857.7,184.2 L860.3,182.2 L861.8,183.7 L864.3,187.8 L866.9,183.7 L868.4,170.5 L869.9,150.2 L870.9,152.7 L872.5,150.2 L874.0,150.2 L874.6,147.8 L875.7,133.3 L876.9,145.5 L877.6,140.2 L880.3,133.7 L882.6,131.8 L883.7,124.5 L884.9,124.9 L886.2,121.1 L887.2,124.9 L888.7,131.0 L889.8,141.7 L891.0,133.3 L892.1,135.6 L892.9,151.6 L894.4,134.8 L896.7,146.3 L899.7,129.5 L901.3,129.1 L903.6,127.2 L905.1,129.5 L907.0,125.7 L909.7,140.9 L912.0,133.7 L913.9,132.5 L916.1,124.9 L917.3,130.3 L918.8,128.3 L920.0,131.8 L922.2,143.6 L923.0,140.6 L924.9,146.7 L926.4,152.8 L927.6,147.5 L930.3,142.9 L931.4,142.1 L932.5,137.9 L933.7,139.8 L934.8,144.4 L936.0,144.4 L937.9,146.7 L940.2,147.5 L941.7,155.9 L943.2,161.2 L945.1,148.2 L946.7,145.2 L948.6,146.7 L950.5,152.8 L952.0,148.6 L953.1,154.3 L954.7,154.7 L956.6,148.6" fill="none" stroke="#000" stroke-width="1.5" stroke-linejoin="round"/>
<path d="M117.30,447.40 C118.37,451.67 119.43,455.93 120.50,460.20 C121.57,464.47 122.63,469.25 123.70,473.00 C124.43,475.58 125.17,477.90 125.90,480.00 C126.43,481.53 126.97,484.20 127.50,484.20 C134.27,484.20 141.03,484.20 147.80,484.20 C148.67,484.20 149.53,479.04 150.40,475.20 C151.47,470.47 152.53,460.69 153.60,454.90 C154.50,450.01 155.40,442.00 156.30,442.00 C156.83,442.00 157.37,442.82 157.90,443.70 C158.97,445.45 160.03,455.39 161.10,460.20 C162.17,465.01 163.23,468.84 164.30,473.00 C165.00,475.73 165.70,479.52 166.40,481.00 C167.13,482.55 167.87,484.20 168.60,484.20 C187.87,484.20 207.13,484.20 226.40,484.20 C226.77,484.20 227.13,482.60 227.50,482.60 C229.63,482.60 231.77,482.60 233.90,482.60 C234.27,482.60 234.63,484.20 235.00,484.20 C235.67,484.20 236.33,483.31 237.00,483.20 C239.33,482.81 241.67,482.60 244.00,482.60 C244.53,482.60 245.07,484.20 245.60,484.20 C251.13,484.20 256.67,484.20 262.20,484.20 C263.07,484.20 263.93,477.80 264.80,477.80 C266.40,477.80 268.00,477.80 269.60,477.80 C270.67,477.80 271.73,484.20 272.80,484.20 C288.20,484.20 303.60,484.20 319.00,484.20 C322.00,484.20 325.00,448.50 328.00,448.50 C329.67,448.50 331.33,459.73 333.00,462.40 C333.87,463.79 334.73,463.95 335.60,465.50 C336.50,467.11 337.40,474.88 338.30,475.20 C339.20,475.52 340.10,475.40 341.00,475.70 C342.07,476.06 343.13,484.20 344.20,484.20 C379.87,484.20 415.53,484.20 451.20,484.20 C454.40,484.20 457.60,441.50 460.80,441.50 C461.70,441.50 462.60,442.81 463.50,444.20 C465.80,447.76 468.10,484.20 470.40,484.20 C482.50,484.20 494.60,484.20 506.70,484.20 C509.20,484.20 511.70,457.00 514.20,457.00 C514.90,457.00 515.60,458.71 516.30,460.20 C517.73,463.25 519.17,474.66 520.60,478.40 C521.30,480.23 522.00,482.60 522.70,482.60 C524.87,482.60 527.03,482.60 529.20,482.60 C531.50,482.60 533.80,453.30 536.10,453.30 C536.63,453.30 537.17,454.81 537.70,456.00 C539.83,460.78 541.97,484.20 544.10,484.20 C545.00,484.20 545.90,482.60 546.80,482.60 C549.10,482.60 551.40,482.60 553.70,482.60 C554.40,482.60 555.10,484.20 555.80,484.20 C557.23,484.20 558.67,484.20 560.10,484.20 C560.63,484.20 561.17,482.60 561.70,482.60 C562.93,482.60 564.17,482.60 565.40,482.60 C566.13,482.60 566.87,480.50 567.60,480.50 C568.30,480.50 569.00,482.60 569.70,482.60 C570.93,482.60 572.17,475.70 573.40,475.70 C574.13,475.70 574.87,477.80 575.60,477.80 C576.67,477.80 577.73,477.80 578.80,477.80 C579.50,477.80 580.20,484.20 580.90,484.20 C601.90,484.20 622.90,484.20 643.90,484.20 C646.73,484.20 649.57,442.10 652.40,442.10 C653.67,442.10 654.93,444.60 656.20,446.90 C659.03,452.05 661.87,482.60 664.70,482.60 C666.13,482.60 667.57,482.60 669.00,482.60 C669.53,482.60 670.07,484.20 670.60,484.20 C706.43,484.20 742.27,484.20 778.10,484.20 C778.83,484.20 779.57,480.50 780.30,480.50 C782.07,480.50 783.83,480.50 785.60,480.50 C786.13,480.50 786.67,478.90 787.20,478.90 C787.57,478.90 787.93,480.50 788.30,480.50 C790.27,480.50 792.23,480.50 794.20,480.50 C794.53,480.50 794.87,484.20 795.20,484.20 C795.73,484.20 796.27,480.21 796.80,478.40 C798.77,471.74 800.73,460.20 802.70,460.20 C803.23,460.20 803.77,463.40 804.30,463.40 C804.67,463.40 805.03,460.20 805.40,460.20 C807.00,460.20 808.60,476.66 810.20,477.30 C810.90,477.58 811.60,477.49 812.30,477.80 C813.00,478.11 813.70,484.20 814.40,484.20 C817.43,484.20 820.47,439.40 823.50,439.40 C824.57,439.40 825.63,444.20 826.70,444.20 C827.80,444.20 828.90,444.20 830.00,444.20 C831.57,444.20 833.13,451.24 834.70,457.00 C836.30,462.88 837.90,484.20 839.50,484.20 C855.37,484.20 871.23,484.20 887.10,484.20 C887.97,484.20 888.83,482.69 889.70,482.10 C890.60,481.48 891.50,481.46 892.40,480.50 C893.20,479.65 894.00,469.62 894.80,469.30 C895.60,468.98 896.40,469.10 897.20,468.80 C897.73,468.60 898.27,466.60 898.80,466.60 C899.33,466.60 899.87,467.59 900.40,468.80 C900.93,470.01 901.47,478.88 902.00,479.40 C902.73,480.11 903.47,479.93 904.20,480.50 C904.90,481.05 905.60,484.20 906.30,484.20 C907.00,484.20 907.70,484.20 908.40,484.20 C908.93,484.20 909.47,476.20 910.00,476.20 C911.97,476.20 913.93,476.20 915.90,476.20 C916.43,476.20 916.97,484.20 917.50,484.20 C918.73,484.20 919.97,484.20 921.20,484.20 C923.70,484.20 926.20,449.00 928.70,449.00 C929.77,449.00 930.83,455.45 931.90,459.20 C933.33,464.23 934.77,476.20 936.20,476.20 C937.60,476.20 939.00,467.80 940.40,463.40 C941.67,459.42 942.93,451.10 944.20,451.10 C945.80,451.10 947.40,457.34 949.00,463.40 C950.07,467.44 951.13,484.20 952.20,484.20 C953.80,484.20 955.40,484.20 957.00,484.20" fill="none" stroke="#000" stroke-width="1.6" stroke-linejoin="round"/>
<line x1="112.3" y1="104" x2="112.3" y2="485" stroke="#000" stroke-width="1.8"/>
<line x1="963" y1="104" x2="963" y2="485" stroke="#ff8c8c" stroke-width="1.8"/>
<g transform="translate(979,86)" fill="none" stroke="#555" stroke-width="1"><path d="M0.5,2 h2.5 l1,-1.5 h2 l1,1.5 h2.5 v5.5 h-9 z"/><circle cx="5" cy="4.5" r="1.8"/></g>
<use href="#gn" fill="none" stroke="#151515" stroke-width="7.9" transform="translate(817.3,476.3) scale(0.279)"/>
</svg>
<div class="foot">© 2024 Glassnode. All Rights Reserved.</div>

</body></html>
